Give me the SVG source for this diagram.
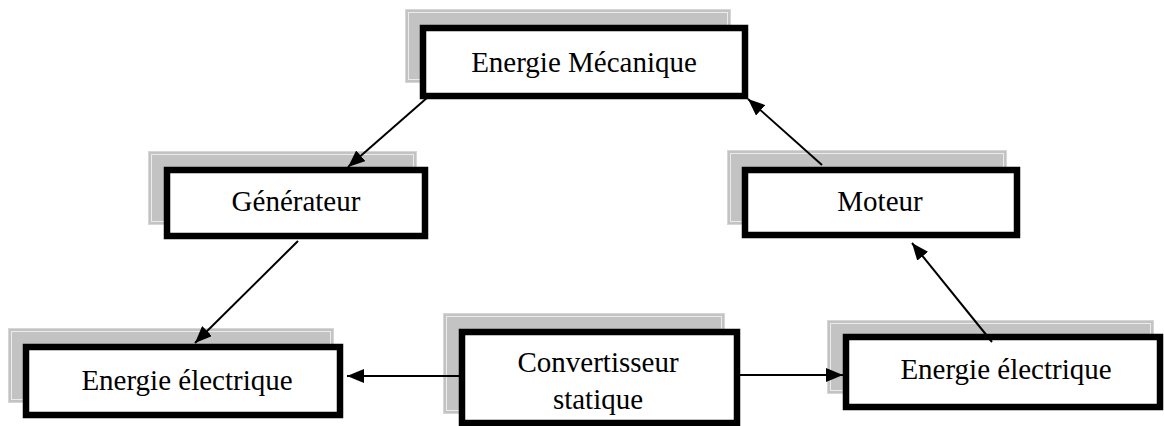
<svg xmlns="http://www.w3.org/2000/svg" width="1164" height="426" viewBox="0 0 1164 426">
  <style>
    .shadow { fill: #c3c3c3; stroke: #d6d6d6; stroke-width: 1; }
    .shadow-edge { fill: none; stroke: #ececec; stroke-width: 1; }
    .box { fill: #ffffff; stroke: #000000; stroke-width: 6.5; }
    .label { font-family: "Liberation Serif", "Times New Roman", serif; font-size: 29px; fill: #000000; text-anchor: middle; }
    .link { stroke: #000000; stroke-width: 2; fill: none; marker-end: url(#arrow); }
  </style>
  <defs>
    <marker id="arrow" markerUnits="userSpaceOnUse" markerWidth="18" markerHeight="14" refX="17" refY="7" orient="auto">
      <path d="M0,0 L17,7 L0,14 Z" fill="#000000"/>
    </marker>
  </defs>
  <rect width="1164" height="426" fill="#ffffff"/>

  <g id="node-mecanique">
    <rect class="shadow" x="405.5" y="9.5" width="325" height="73"/>
    <rect class="shadow-edge" x="408.5" y="12.5" width="319" height="67"/>
    <rect class="box" x="423" y="28" width="322" height="68"/>
    <text class="label" x="584" y="72">Energie Mécanique</text>
  </g>

  <g id="node-generateur">
    <rect class="shadow" x="148.5" y="151.5" width="268" height="73"/>
    <rect class="shadow-edge" x="151.5" y="154.5" width="262" height="67"/>
    <rect class="box" x="167" y="170" width="258" height="66"/>
    <text class="label" x="296" y="211">Générateur</text>
  </g>

  <g id="node-moteur">
    <rect class="shadow" x="727.5" y="150.5" width="279" height="74"/>
    <rect class="shadow-edge" x="730.5" y="153.5" width="273" height="68"/>
    <rect class="box" x="745" y="170" width="272" height="65"/>
    <text class="label" x="880" y="211">Moteur</text>
  </g>

  <g id="node-elec-gauche">
    <rect class="shadow" x="8.5" y="328.5" width="325" height="74"/>
    <rect class="shadow-edge" x="11.5" y="331.5" width="319" height="68"/>
    <rect class="box" x="26" y="347" width="314" height="68"/>
    <text class="label" x="187" y="390">Energie électrique</text>
  </g>

  <g id="node-convertisseur">
    <rect class="shadow" x="443.5" y="313.5" width="281" height="100"/>
    <rect class="shadow-edge" x="446.5" y="316.5" width="275" height="94"/>
    <rect class="box" x="462" y="332" width="275" height="91"/>
    <text class="label" x="598" y="372">Convertisseur</text>
    <text class="label" x="598" y="409">statique</text>
  </g>

  <g id="node-elec-droite">
    <rect class="shadow" x="827.5" y="320.5" width="326" height="73"/>
    <rect class="shadow-edge" x="830.5" y="323.5" width="320" height="67"/>
    <rect class="box" x="846" y="337" width="314" height="70"/>
    <text class="label" x="1006" y="379">Energie électrique</text>
  </g>

  <g id="connectors">
    <line class="link" x1="428" y1="97" x2="348" y2="167"/>
    <line class="link" x1="822" y1="165" x2="748" y2="99"/>
    <line class="link" x1="298" y1="241" x2="195" y2="343"/>
    <line class="link" x1="992" y1="342" x2="912" y2="243"/>
    <line class="link" x1="459" y1="376" x2="347" y2="376"/>
    <line class="link" x1="740" y1="375" x2="843" y2="375"/>
  </g>
</svg>
